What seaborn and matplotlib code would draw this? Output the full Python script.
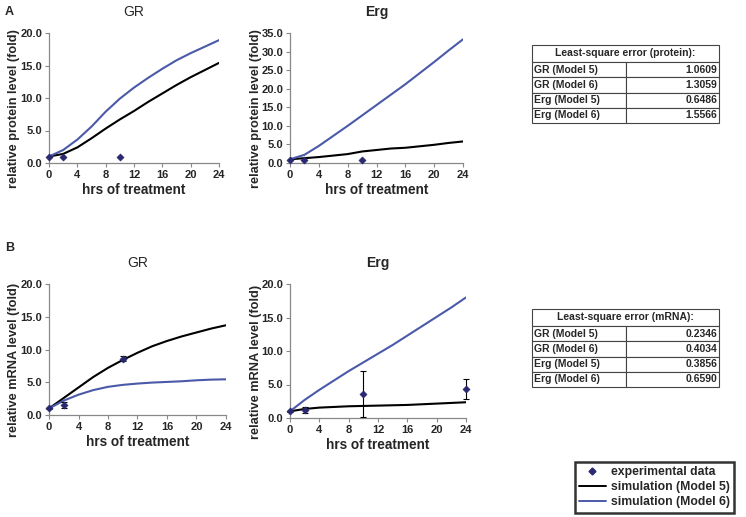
import numpy as np
import pandas as pd
import matplotlib
matplotlib.use("Agg")
import matplotlib.pyplot as plt
from matplotlib.lines import Line2D
import seaborn as sns

# simulation time grid (hrs)
t_sim = [0, 2, 4, 6, 8, 10, 12, 14, 16, 18, 20, 22, 24]

# panel A: protein
gr_prot_m5 = [1.0, 1.4, 2.4, 3.8, 5.3, 6.7, 8.0, 9.4, 10.7, 12.0, 13.2, 14.3, 15.4]
gr_prot_m6 = [1.0, 2.0, 3.6, 5.6, 7.9, 9.9, 11.6, 13.1, 14.5, 15.8, 16.9, 17.9, 18.9]
erg_prot_m5 = [1.0, 1.3, 1.6, 2.0, 2.4, 3.1, 3.5, 3.9, 4.1, 4.5, 4.9, 5.4, 5.8]
erg_prot_m6 = [1.0, 2.2, 4.6, 7.3, 10.0, 12.8, 15.6, 18.4, 21.2, 24.2, 27.2, 30.3, 33.3]
gr_prot_t = [0, 2, 10]
gr_prot_exp = [1.0, 0.9, 1.0]
erg_prot_t = [0, 2, 10]
erg_prot_exp = [0.9, 0.8, 0.8]

# panel B: mRNA
gr_mrna_m5 = [1.0, 2.6, 4.2, 5.8, 7.2, 8.4, 9.5, 10.5, 11.3, 12.0, 12.6, 13.2, 13.7]
gr_mrna_m6 = [1.0, 2.2, 3.1, 3.8, 4.3, 4.6, 4.8, 4.95, 5.05, 5.15, 5.3, 5.4, 5.45]
erg_mrna_m5 = [1.0, 1.35, 1.55, 1.65, 1.75, 1.8, 1.85, 1.9, 1.95, 2.05, 2.15, 2.25, 2.35]
erg_mrna_m6 = [1.0, 2.7, 4.2, 5.6, 7.0, 8.3, 9.6, 10.9, 12.3, 13.7, 15.1, 16.5, 18.0]
gr_mrna_t = [0, 2, 10]
gr_mrna_exp = [1.0, 1.5, 8.6]
gr_mrna_err = [0.1, 0.5, 0.4]
erg_mrna_t = [0, 2, 10, 24]
erg_mrna_exp = [1.0, 1.2, 3.6, 4.3]
erg_mrna_err = [0.1, 0.4, 3.4, 1.5]

prot_rows = ["GR (Model 5)", "GR (Model 6)", "Erg (Model 5)", "Erg (Model 6)"]
prot_err = ["1.0609", "1.3059", "0.6486", "1.5566"]
mrna_rows = ["GR (Model 5)", "GR (Model 6)", "Erg (Model 5)", "Erg (Model 6)"]
mrna_err = ["0.2346", "0.4034", "0.3856", "0.6590"]

sns.set_style("white")
plt.rcParams['font.family'] = ['Liberation Sans', 'DejaVu Sans']

BLUE = "#4a5aa8"
NAVY = "#2a2870"
W, H = 746, 517

fig = plt.figure(figsize=(7.46, 5.17), dpi=100)


def px_axes(x0, y0, x1, y1):
    return fig.add_axes([x0 / W, 1 - y1 / H, (x1 - x0) / W, (y1 - y0) / H])


def panel(ax, m5, m6, te, ye, err, ymax, ystep, ylabel, title, tbold, lab_x):
    df = pd.DataFrame({"t": t_sim, "m5": m5, "m6": m6})
    sns.lineplot(data=df, x="t", y="m5", ax=ax, color="black", lw=1.5)
    sns.lineplot(data=df, x="t", y="m6", ax=ax, color=BLUE, lw=1.5)
    if err is not None:
        ax.errorbar(te, ye, yerr=err, fmt="none", ecolor="black", elinewidth=0.8,
                    capsize=2.5, capthick=0.8, zorder=4, clip_on=False)
    sns.scatterplot(x=te, y=ye, ax=ax, marker="D", s=14, color=NAVY,
                    edgecolor=NAVY, zorder=5, clip_on=False)
    ax.set_xlim(0, 24)
    ax.set_ylim(0, ymax)
    ax.set_xticks(range(0, 25, 4))
    ax.set_yticks(np.arange(0, ymax + 0.01, ystep))
    ax.set_yticklabels([f"{v:.1f}" for v in np.arange(0, ymax + 0.01, ystep)])
    for lab in ax.get_xticklabels() + ax.get_yticklabels():
        lab.set_fontweight("bold")
        lab.set_fontsize(8)
    ax.tick_params(axis="both", length=3, width=0.8, color="#888888", pad=2,
                   bottom=True, left=True, direction="out")
    for s in ["top", "right"]:
        ax.spines[s].set_visible(False)
    for s in ["left", "bottom"]:
        ax.spines[s].set_color("#888888")
        ax.spines[s].set_linewidth(0.9)
    ax.set_xlabel("hrs of treatment", fontsize=9.8, fontweight="bold", labelpad=2)
    ax.set_ylabel(ylabel, fontsize=9.2, fontweight="bold")
    ax.yaxis.set_label_coords(lab_x, 0.42)
    ax.set_title(title, fontsize=10, fontweight="bold" if tbold else "normal", pad=12)


axA1 = px_axes(49, 33, 219, 163)
panel(axA1, gr_prot_m5, gr_prot_m6, gr_prot_t, gr_prot_exp, None, 20, 5,
      "relative protein level (fold)", "GR", False, -0.17)
axA2 = px_axes(290, 33, 463, 163)
panel(axA2, erg_prot_m5, erg_prot_m6, erg_prot_t, erg_prot_exp, None, 35, 5,
      "relative protein level (fold)", "Erg", True, -0.16)
axB1 = px_axes(49, 284, 226, 415)
panel(axB1, gr_mrna_m5, gr_mrna_m6, gr_mrna_t, gr_mrna_exp, gr_mrna_err, 20, 5,
      "relative mRNA level (fold)", "GR", False, -0.165)
axB2 = px_axes(290, 284, 466, 418)
panel(axB2, erg_mrna_m5, erg_mrna_m6, erg_mrna_t, erg_mrna_exp, erg_mrna_err, 20, 5,
      "relative mRNA level (fold)", "Erg", True, -0.16)

fig.text(5 / W, 1 - 12 / H, "A", fontsize=9, fontweight="bold", va="center")
fig.text(5 / W, 1 - 248 / H, "B", fontsize=9, fontweight="bold", va="center")


def err_table(y0, title, rows, vals):
    hdr = px_axes(532, y0, 719, y0 + 17)
    hdr.axis("off")
    t = hdr.table(cellText=[[title]], cellLoc="center", bbox=[0, 0, 1, 1])
    body = px_axes(532, y0 + 17, 719, y0 + 78)
    body.axis("off")
    b = body.table(cellText=[[r, v] for r, v in zip(rows, vals)],
                   cellLoc="left", bbox=[0, 0, 1, 1])
    for tab in (t, b):
        tab.auto_set_font_size(False)
        for (r, c), cell in tab.get_celld().items():
            cell.set_linewidth(0.8)
            cell.set_edgecolor("#444444")
            cell.get_text().set_fontsize(7.5)
            cell.get_text().set_fontweight("bold")
            if tab is b:
                cell.PAD = 0.02
                if c == 1:
                    cell.get_text().set_ha("right")
                    cell._loc = "right"


err_table(45, "Least-square error (protein):", prot_rows, prot_err)
err_table(309, "Least-square error (mRNA):", mrna_rows, mrna_err)

handles = [
    Line2D([], [], ls="none", marker="D", ms=3.5, color=NAVY),
    Line2D([], [], color="black", lw=1.4),
    Line2D([], [], color=BLUE, lw=1.4),
]
labels = ["experimental data", "simulation (Model 5)", "simulation (Model 6)"]
leg = fig.legend(handles, labels, loc="upper right",
                 bbox_to_anchor=(740 / W, 1 - 456 / H), frameon=True,
                 fancybox=False, handlelength=2.2, handletextpad=0.4,
                 borderpad=0.35, labelspacing=0.25,
                 prop={"weight": "bold", "size": 8.8})
leg.get_frame().set_edgecolor("black")
leg.get_frame().set_linewidth(1.8)

fig.savefig("out.png", dpi=100)
